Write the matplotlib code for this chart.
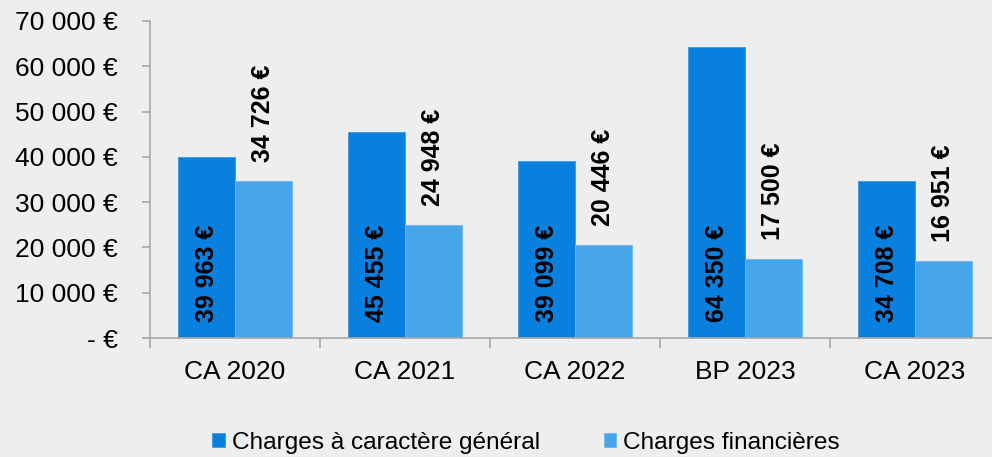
import matplotlib
matplotlib.use('Agg')
import matplotlib.pyplot as plt
import numpy as np

categories = ['CA 2020', 'CA 2021', 'CA 2022', 'BP 2023', 'CA 2023']
charges_generales = [39963, 45455, 39099, 64350, 34708]
charges_financieres = [34726, 24948, 20446, 17500, 16951]
series_names = ['Charges à caractère général', 'Charges financières']
y_ticks = [0, 10000, 20000, 30000, 40000, 50000, 60000, 70000]


def euro(v):
    if v == 0:
        return '- €'
    return '{:,}'.format(int(v)).replace(',', ' ') + ' €'


plt.rcParams['font.family'] = ['Liberation Sans', 'DejaVu Sans']

bg = '#EEEEEE'
dark = '#0A80DE'
light = '#47A6EA'

fig = plt.figure(figsize=(9.92, 4.57), dpi=100, facecolor=bg)
ax = fig.add_axes([150 / 992, (457 - 338) / 457, 850 / 992, 317 / 457])
ax.set_facecolor(bg)

x = np.arange(len(categories))
w = 1 / 3
b1 = ax.bar(x - w / 2, charges_generales, w, color=dark, edgecolor='#3A9BE8', linewidth=0.6,
            label=series_names[0])
b2 = ax.bar(x + w / 2, charges_financieres, w, color=light, edgecolor='#6BB8EE', linewidth=0.6,
            label=series_names[1])

for xi, v in zip(x, charges_generales):
    ax.annotate(euro(v), (xi - w / 2, 0), xytext=(0, 16), textcoords='offset pixels',
                rotation=90, ha='center', va='bottom', fontsize=18, fontweight='bold')
for xi, v in zip(x, charges_financieres):
    ax.annotate(euro(v), (xi + w / 2, v), xytext=(0, 19), textcoords='offset pixels',
                rotation=90, ha='center', va='bottom', fontsize=18, fontweight='bold',
                annotation_clip=False)

ax.set_xlim(-0.5, len(categories) - 0.5)
ax.set_ylim(0, 70000)
ax.set_yticks(y_ticks)
ax.set_yticklabels([euro(v) for v in y_ticks])
ax.set_xticks(np.arange(len(categories) + 1) - 0.5)
ax.set_xticklabels([])
ax.set_xticks(x, minor=True)
ax.set_xticklabels(categories, minor=True)

for s in ['top', 'right']:
    ax.spines[s].set_visible(False)
for s in ['left', 'bottom']:
    ax.spines[s].set_color('#A6A6A6')
    ax.spines[s].set_linewidth(1.2)

ax.tick_params(axis='y', length=6, width=1.2, color='#A6A6A6', pad=17, labelsize=19)
ax.tick_params(axis='x', which='major', length=7, width=1.2, color='#A6A6A6')
ax.tick_params(axis='x', which='minor', length=0, pad=16, labelsize=19)

fig.legend(handles=[b1, b2], loc='center', bbox_to_anchor=(526 / 992, 1 - 443 / 457),
           ncol=2, frameon=False, fontsize=17.6, handlelength=0.5, handleheight=0.5,
           handletextpad=0.3, columnspacing=2.6, borderaxespad=0)

fig.savefig('out.png', dpi=100, facecolor=bg)
